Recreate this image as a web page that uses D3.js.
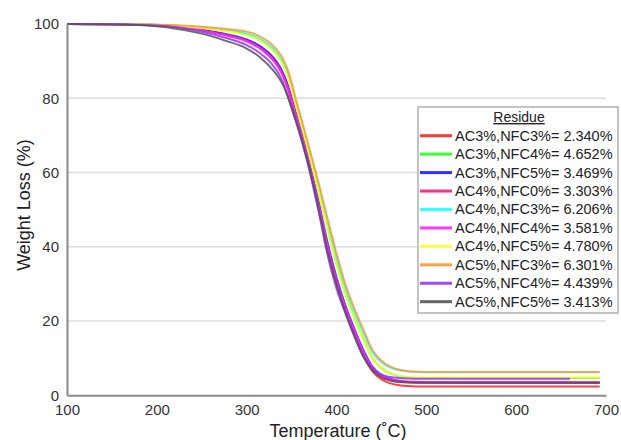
<!DOCTYPE html>
<html>
<head>
<meta charset="utf-8">
<script src="https://cdn.jsdelivr.net/npm/d3@7/dist/d3.min.js"></script>
<style>
  html, body { margin: 0; padding: 0; background: #fff; }
  svg { display: block; }
  text { font-family: "Liberation Sans", Arial, sans-serif; }
</style>
</head>
<body>
<svg id="chart" width="621" height="440"></svg>
<script>
// ---------------- DATA ----------------
const temperatures = [100,150,200,225,250,275,300,315,330,335,340,345,350,355,360,365,370,380,390,400,410,420,430,440,450,460,470,480,500,550,600,650,660,693];

const seriesNames = [
  "AC3%,NFC3%= 2.340%",
  "AC3%,NFC4%= 4.652%",
  "AC3%,NFC5%= 3.469%",
  "AC4%,NFC0%= 3.303%",
  "AC4%,NFC3%= 6.206%",
  "AC4%,NFC4%= 3.581%",
  "AC4%,NFC5%= 4.780%",
  "AC5%,NFC3%= 6.301%",
  "AC5%,NFC4%= 4.439%",
  "AC5%,NFC5%= 3.413%"
];

const seriesColors = ["#ff2020","#22ff22","#1a1aff","#ff1a7a","#22ffff","#ff22ff","#ffff22","#ff9633","#9633ff","#555555"];

const redAC3NFC3    = [100,99.94,99.69,99.26,98.40,97.23,95.62,93.74,90.51,88.88,86.66,83.55,79.56,75.26,71.02,66.49,61.67,51.29,40.07,30.57,22.97,16.58,10.86,6.44,4.29,3.22,2.69,2.48,2.34,2.34,2.34,2.34,2.34,2.34];
const greenAC3NFC4  = [100,99.98,99.77,99.50,98.97,98.21,97.15,95.65,92.84,91.36,89.41,86.64,82.63,78.04,73.74,69.29,64.66,55.18,45.01,35.48,27.30,20.82,15.09,9.99,7.32,5.89,5.15,4.82,4.65,4.65,4.65,4.65,4.65,4.65];
const blueAC3NFC5   = [100,99.95,99.70,99.29,98.48,97.37,95.86,94.04,90.89,89.29,87.12,84.08,80.13,75.83,71.61,67.13,62.38,52.20,41.20,31.79,24.18,17.83,12.16,7.70,5.50,4.39,3.84,3.61,3.47,3.47,3.47,3.47,3.47,3.47];
const pinkAC4NFC0   = [100,99.93,99.67,99.21,98.28,97.02,95.31,93.35,90.07,88.42,86.17,83.03,79.10,74.95,70.79,66.32,61.51,51.07,39.76,30.43,23.08,16.83,11.20,7.02,5.04,4.07,3.61,3.43,3.30,3.30,3.30,3.30,3.30,3.30];
const cyanAC4NFC3   = [100,99.99,99.78,99.54,99.05,98.35,97.38,95.94,93.22,91.78,89.89,87.20,83.23,78.68,74.43,70.04,65.51,56.25,46.34,36.94,28.81,22.40,16.74,11.63,8.93,7.48,6.72,6.38,6.21,6.21,6.21,6.21,6.21,6.21];
const magentaAC4NFC4= [100,99.94,99.68,99.24,98.35,97.15,95.50,93.59,90.37,88.74,86.52,83.41,79.49,75.30,71.13,66.67,61.89,51.56,40.38,31.04,23.63,17.35,11.73,7.47,5.41,4.40,3.91,3.71,3.58,3.58,3.58,3.58,3.58,3.58];
const yellowAC4NFC5 = [100,99.98,99.76,99.48,98.91,98.10,96.98,95.44,92.59,91.10,89.13,86.33,82.33,77.79,73.53,69.08,64.45,54.90,44.65,35.16,27.09,20.64,14.94,9.95,7.35,5.97,5.26,4.95,4.78,4.78,4.78,4.78,4.78,4.78];
const orangeAC5NFC3 = [100,100,99.81,99.63,99.25,98.69,97.94,96.60,94.00,92.60,90.80,88.20,84.20,79.50,75.20,70.80,66.30,57.30,47.70,38.20,29.80,23.30,17.60,12.20,9.30,7.71,6.86,6.49,6.30,6.30,6.30,6.30,6.30,6.30];
const purpleAC5NFC4 = [100,99.90,99.62,99.04,97.90,96.37,94.30,92.10,88.60,86.90,84.50,81.20,77.40,73.60,69.60,65.20,60.40,49.60,37.80,28.80,22.10,16.10,10.65,7.12,5.59,4.92,4.63,4.54,4.44,4.44,4.44,4.44,4.44,null];
const grayAC5NFC5   = [100,99.90,99.40,98.60,97.40,95.60,93.40,91.00,87.40,85.80,83.80,81.00,77.50,73.80,69.90,65.60,61.00,50.30,38.80,29.80,22.20,15.80,10.30,6.70,4.80,4.00,3.65,3.50,3.43,3.41,3.41,3.41,3.41,3.41];

const seriesValues = [redAC3NFC3, greenAC3NFC4, blueAC3NFC5, pinkAC4NFC0, cyanAC4NFC3,
                      magentaAC4NFC4, yellowAC4NFC5, orangeAC5NFC3, purpleAC5NFC4, grayAC5NFC5];

const xTicks = [100,200,300,400,500,600,700];
const yTicks = [0,20,40,60,80,100];
const gridValues = [20,40,60,80];

const xTitle = "Temperature (\u02DAC)";
const yTitle = "Weight Loss (%)";
const legendTitle = "Residue";

// ---------------- CHART ----------------
const svg = d3.select("#chart");
const x = d3.scaleLinear().domain([100,700]).range([67,606]);
const y = d3.scaleLinear().domain([0,100]).range([395.3,24]);

// gridlines
svg.append("g").selectAll("line").data(gridValues).join("line")
  .attr("x1", x(100)).attr("x2", x(700))
  .attr("y1", d => y(d)).attr("y2", d => y(d))
  .attr("stroke", "#dcdcdc").attr("stroke-width", 1.5);

// curves
const line = d3.line()
  .defined(d => d[1] != null)
  .x(d => x(d[0])).y(d => y(d[1]))
  .curve(d3.curveMonotoneX);

seriesValues.forEach((vals, i) => {
  svg.append("path")
    .datum(temperatures.map((t, j) => [t, vals[j]]))
    .attr("d", line)
    .attr("fill", "none")
    .attr("stroke", seriesColors[i])
    .attr("stroke-width", 2)
    .attr("stroke-opacity", 0.85);
});

// axes
const xAxis = svg.append("g").attr("transform", `translate(0,${y(0)})`)
  .call(d3.axisBottom(x).tickValues(xTicks).tickSize(0).tickPadding(9).tickFormat(d3.format("d")));
const yAxis = svg.append("g").attr("transform", `translate(${x(100)},0)`)
  .call(d3.axisLeft(y).tickValues(yTicks).tickSize(0).tickPadding(8).tickFormat(d3.format("d")));
[xAxis, yAxis].forEach(g => {
  g.select(".domain").attr("stroke", "#8a8a8a").attr("stroke-width", 2);
  g.selectAll("text").attr("font-size", 15).attr("fill", "#333")
    .attr("font-family", "'Liberation Sans', Arial, sans-serif");
});

// axis titles
svg.append("text").attr("x", 338).attr("y", 437).attr("text-anchor", "middle")
  .attr("font-size", 18).attr("fill", "#222").text(xTitle);
svg.append("text").attr("transform", "translate(30,205) rotate(-90)").attr("text-anchor", "middle")
  .attr("font-size", 18).attr("fill", "#222").text(yTitle);

// legend
const lg = svg.append("g");
lg.append("rect").attr("x", 418).attr("y", 107).attr("width", 200).attr("height", 206)
  .attr("fill", "#fff").attr("stroke", "#b0b0b0").attr("stroke-width", 1.5);
lg.append("text").attr("x", 519).attr("y", 122).attr("text-anchor", "middle")
  .attr("font-size", 14).attr("fill", "#222").attr("text-decoration", "underline").text(legendTitle);
const rowY = d3.scaleLinear().domain([0, seriesNames.length - 1]).range([135.7, 301.7]);
seriesNames.forEach((name, i) => {
  lg.append("line").attr("x1", 420).attr("x2", 452)
    .attr("y1", rowY(i)).attr("y2", rowY(i))
    .attr("stroke", seriesColors[i]).attr("stroke-width", 3).attr("stroke-opacity", 0.9);
  lg.append("text").attr("x", 455).attr("y", rowY(i) + 5)
    .attr("font-size", 14.5).attr("fill", "#222").text(name);
});
</script>
</body>
</html>
